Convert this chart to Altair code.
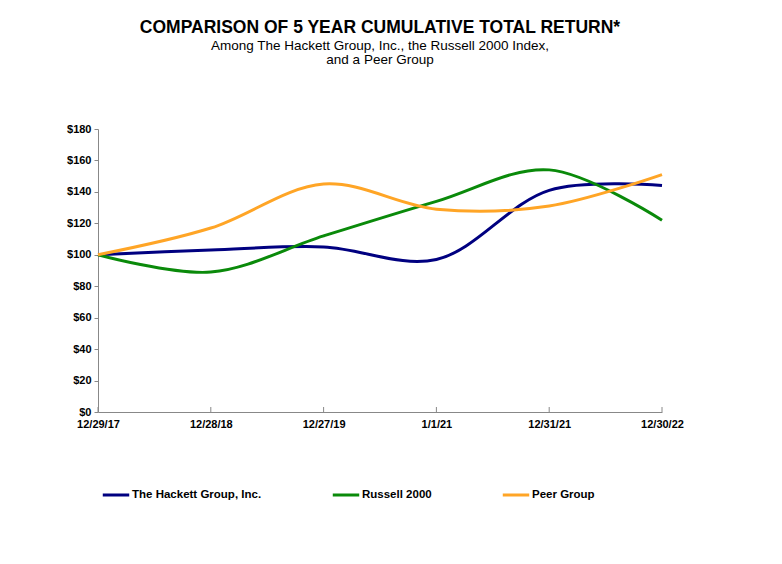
import altair as alt
import pandas as pd

dates = ["12/29/17", "12/28/18", "12/27/19", "1/1/21", "12/31/21", "12/30/22"]
hackett = [100, 103, 105, 97, 141, 144]
russell = [100, 89, 112, 134, 154, 122]
peer = [100, 117, 145, 129, 131, 151]
series = ["The Hackett Group, Inc.", "Russell 2000", "Peer Group"]
colors = ["#000080", "#0A8A0A", "#FFA526"]

rows = []
for name, vals in zip(series, [hackett, russell, peer]):
    for d, v in zip(dates, vals):
        rows.append({"date": d, "value": v, "series": name})
df = pd.DataFrame(rows)
ticks_df = pd.DataFrame({"date": dates})

FONT = "Liberation Sans"
xscale = alt.Scale(type="point", padding=0)
xaxis = alt.Axis(title=None, labelAngle=0, labelFont=FONT, labelFontSize=11,
                 labelFontWeight="bold", labelColor="#000", ticks=False,
                 domainColor="#888", labelPadding=6, labelFlush=False,
                 labelOverlap=False, labelAlign="center", labelBaseline="top")

x_enc = alt.X("date:O", sort=dates, scale=xscale, axis=xaxis)

lines = alt.Chart(df).mark_line(interpolate="catmull-rom", strokeWidth=3).encode(
    x=x_enc,
    y=alt.Y("value:Q", scale=alt.Scale(domain=[0, 180], nice=False),
            axis=alt.Axis(title=None, values=list(range(0, 181, 20)), format="$,d",
                          labelFont=FONT, labelFontSize=11, labelFontWeight="bold",
                          labelColor="#000", grid=False, domainColor="#888",
                          tickColor="#888", tickSize=4, labelPadding=3)),
    color=alt.Color("series:N", sort=series,
                    scale=alt.Scale(domain=series, range=colors),
                    legend=alt.Legend(title=None, orient="none", direction="horizontal",
                                      legendX=3, legendY=351, symbolType="stroke",
                                      symbolSize=700, symbolStrokeWidth=3,
                                      labelFont=FONT, labelFontSize=11.5,
                                      labelFontWeight="bold", labelColor="#000",
                                      columnPadding=64, labelOffset=1)),
)

tick_marks = alt.Chart(ticks_df).mark_rule(color="#888", strokeWidth=1).encode(
    x=x_enc,
    y=alt.value(283), y2=alt.value(278),
)

chart = alt.layer(tick_marks, lines).properties(
    width=564, height=283,
    padding={"left": 90, "top": 121, "right": 112, "bottom": 152},
    autosize=alt.AutoSizeParams(type="none"),
    background="white",
    title=alt.TitleParams(
        text="COMPARISON OF 5 YEAR CUMULATIVE TOTAL RETURN*",
        subtitle=["Among The Hackett Group, Inc., the Russell 2000 Index,", "and a Peer Group"],
        anchor="middle", font=FONT, fontSize=17.5, fontWeight="bold", color="#000",
        subtitleFont=FONT, subtitleFontSize=13.5, subtitleColor="#000",
        subtitlePadding=2, subtitleLineHeight=14, offset=57),
).configure_view(strokeWidth=0)

chart.save("out.html", embed_options={"renderer": "svg", "actions": False})
